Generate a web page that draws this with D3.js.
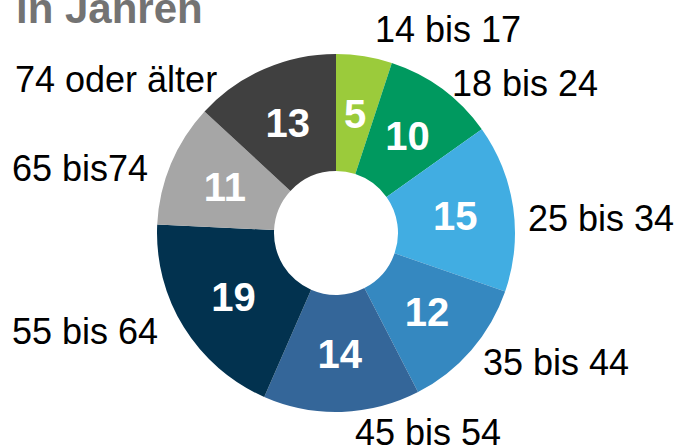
<!DOCTYPE html>
<html>
<head>
<meta charset="utf-8">
<script src="https://cdn.jsdelivr.net/npm/d3@7"></script>
<style>
  body { margin: 0; background: #fff; }
  text { font-family: "Liberation Sans", Arial, sans-serif; }
</style>
</head>
<body>
<div id="chart"></div>
<script>
// Altersgruppen in Jahren (Anteil in %)

var ageGroups = ["14 bis 17", "18 bis 24", "25 bis 34", "35 bis 44", "45 bis 54", "55 bis 64", "65 bis74", "74 oder älter"];
var shares = [5, 10, 15, 12, 14, 19, 11, 13];
var colors = ["#9bcb3b", "#00995f", "#41ade2", "#3588c0", "#346699", "#02324f", "#a6a6a6", "#404040"];

// outer label anchors (left edge x, baseline y), placed by hand like in the slide
var labelAnchors = [[375, 42], [452, 96], [528, 231], [483, 375], [355, 445], [12, 344], [12, 181], [15, 92]];

var svgWidth = 682;
var svgHeight = 448;

var svg = d3.select("#chart")
  .append("svg")
  .attr("width", svgWidth)
  .attr("height", svgHeight);

// title, cut off at the top edge
svg.append("text")
  .attr("x", 16)
  .attr("y", 23)
  .attr("fill", "#737373")
  .style("font-size", "42px")
  .style("font-weight", "bold")
  .text("in Jahren");

var cx = 336, cy = 233;
var outerR = 179, innerR = 62;

var pie = d3.pie()
  .sort(null)
  .value(d => d);

var arc = d3.arc()
  .innerRadius(innerR)
  .outerRadius(outerR);

var arcs = pie(shares);

var chartGroup = svg.append("g")
  .attr("transform", `translate(${cx},${cy})`);

chartGroup.selectAll("path")
  .data(arcs)
  .enter()
  .append("path")
  .attr("d", arc)
  .attr("fill", (d, i) => colors[i]);

// values inside the ring
chartGroup.selectAll(".value")
  .data(arcs)
  .enter()
  .append("text")
  .attr("class", "value")
  .attr("x", d => arc.centroid(d)[0])
  .attr("y", d => arc.centroid(d)[1])
  .attr("dy", "0.36em")
  .attr("text-anchor", "middle")
  .attr("fill", "#fff")
  .style("font-size", "40px")
  .style("font-weight", "bold")
  .text(d => d.data);

// category labels around the ring
svg.selectAll(".cat")
  .data(ageGroups)
  .enter()
  .append("text")
  .attr("class", "cat")
  .attr("x", (d, i) => labelAnchors[i][0])
  .attr("y", (d, i) => labelAnchors[i][1])
  .attr("fill", "#000")
  .style("font-size", "36px")
  .text(d => d);
</script>
</body>
</html>
